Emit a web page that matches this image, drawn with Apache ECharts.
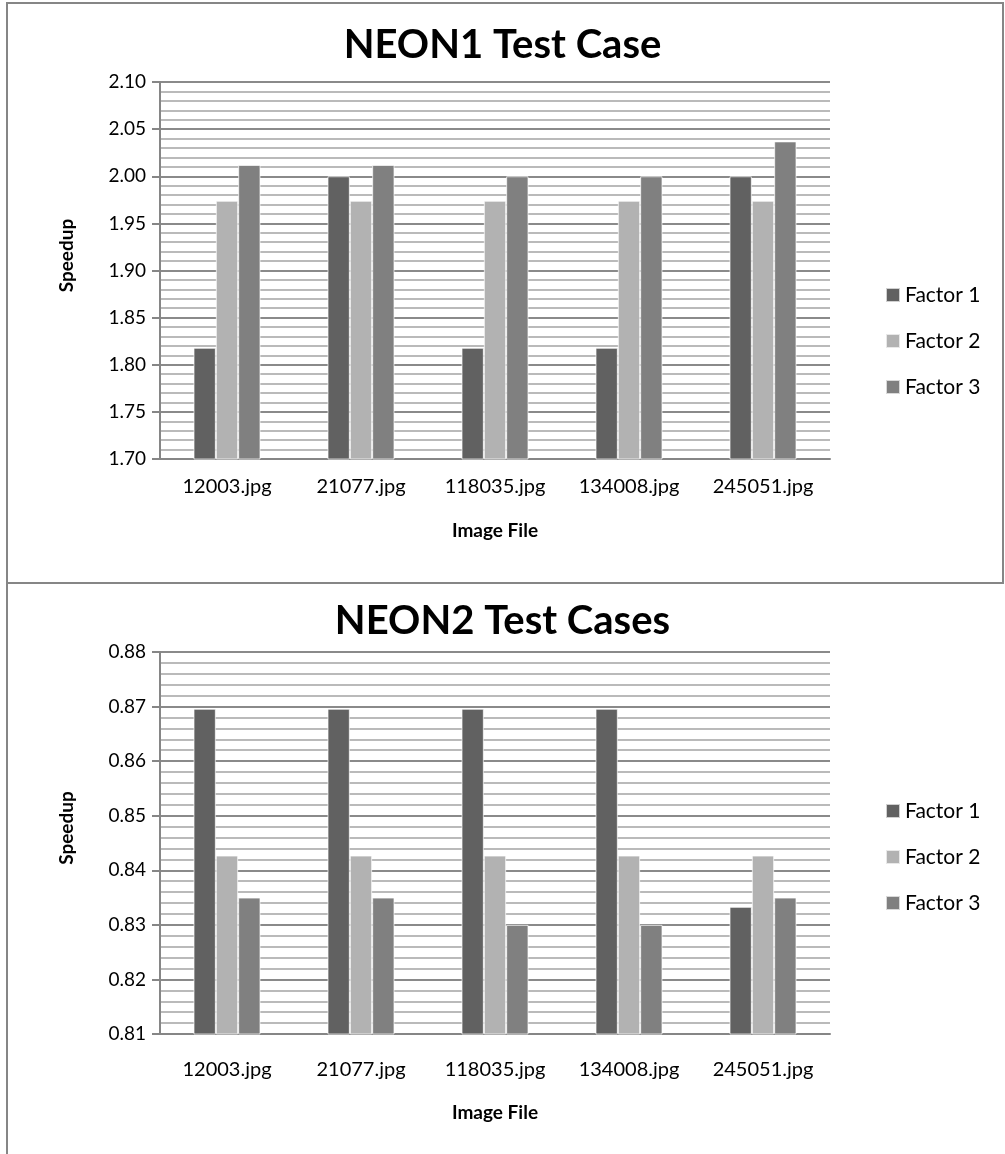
<!DOCTYPE html>
<html>
<head>
<meta charset="utf-8">
<script src="https://cdn.jsdelivr.net/npm/echarts@6/dist/echarts.min.js"></script>
<style>
html,body{margin:0;padding:0;background:#fff;}
#c{width:1005px;height:1154px;}
</style>
</head>
<body>
<div id="c"></div>
<script>
var categories = ['12003.jpg','21077.jpg','118035.jpg','134008.jpg','245051.jpg'];
var seriesNames = ['Factor 1','Factor 2','Factor 3'];
var neon1Factor1 = [1.818, 2.000, 1.818, 1.818, 2.000];
var neon1Factor2 = [1.974, 1.974, 1.974, 1.974, 1.974];
var neon1Factor3 = [2.012, 2.012, 2.000, 2.000, 2.037];
var neon2Factor1 = [0.8696, 0.8696, 0.8696, 0.8696, 0.8333];
var neon2Factor2 = [0.8427, 0.8427, 0.8427, 0.8427, 0.8427];
var neon2Factor3 = [0.8350, 0.8350, 0.8300, 0.8300, 0.8350];
var titles = ['NEON1 Test Case','NEON2 Test Cases'];
var yAxisName = 'Speedup';
var xAxisName = 'Image File';

var colors = ['#616161','#b2b2b2','#808080'];
var FONT = 'Lato';
var chart = echarts.init(document.getElementById('c'), null, {renderer:'canvas'});

function yAxisCfg(gi, min, max, interval){
  return {
    type:'value', gridIndex:gi, min:min, max:max, interval:interval,
    name:yAxisName, nameLocation:'middle', nameGap:84, nameRotate:90,
    nameTextStyle:{fontFamily:FONT, fontWeight:'bold', fontSize:19, color:'#000', padding:[0,0,0,30]},
    axisLine:{show:true, lineStyle:{color:'#868686', width:2}},
    axisTick:{show:true, inside:false, length:8, lineStyle:{color:'#868686', width:2}},
    axisLabel:{fontFamily:FONT, fontSize:19, color:'#000', margin:14,
      formatter:function(v){return v.toFixed(2);}},
    splitLine:{show:true, lineStyle:{color:'#8a8a8a', width:2}},
    minorTick:{show:false, splitNumber:5},
    minorSplitLine:{show:true, lineStyle:{color:'#bababa', width:2}}
  };
}
function xAxisCfg(gi, margin, nameGap){
  return {
    type:'category', gridIndex:gi, data:categories,
    name:xAxisName, nameLocation:'middle', nameGap:nameGap,
    nameTextStyle:{fontFamily:FONT, fontWeight:'bold', fontSize:19, color:'#000'},
    axisLine:{show:true, lineStyle:{color:'#868686', width:2}},
    axisTick:{show:false},
    axisLabel:{fontFamily:FONT, fontSize:20, color:'#000', margin:margin, interval:0},
    splitLine:{show:false}
  };
}
function barSeries(name, data, idx, gi){
  return {
    type:'bar', name:name, data:data, xAxisIndex:gi, yAxisIndex:gi,
    barGap:'0%', barCategoryGap:'50%',
    itemStyle:{color:colors[idx], borderColor:'rgba(255,255,255,0.7)', borderWidth:1},
    emphasis:{disabled:true}, animation:false
  };
}
var legendBase = {
  orient:'vertical', left:880, itemWidth:14, itemHeight:14, itemGap:24,
  icon:'rect', data:seriesNames,
  textStyle:{fontFamily:FONT, fontSize:21, color:'#000', lineHeight:22}
};

chart.setOption({
  animation:false,
  backgroundColor:'#fff',
  color:colors,
  title:[
    {text:titles[0], left:'center', top:20, textStyle:{fontFamily:FONT, fontWeight:'bold', fontSize:40, color:'#000'}},
    {text:titles[1], left:'center', top:596, textStyle:{fontFamily:FONT, fontWeight:'bold', fontSize:40, color:'#000'}}
  ],
  legend:[
    Object.assign({}, legendBase, {top:279}),
    Object.assign({}, legendBase, {top:795})
  ],
  grid:[
    {left:160, top:82, width:670, height:377},
    {left:160, top:652, width:670, height:382}
  ],
  xAxis:[ xAxisCfg(0, 18, 62), xAxisCfg(1, 26, 69) ],
  yAxis:[ yAxisCfg(0, 1.70, 2.10, 0.05), yAxisCfg(1, 0.81, 0.88, 0.01) ],
  series:[
    barSeries(seriesNames[0], neon1Factor1, 0, 0),
    barSeries(seriesNames[1], neon1Factor2, 1, 0),
    barSeries(seriesNames[2], neon1Factor3, 2, 0),
    barSeries(seriesNames[0], neon2Factor1, 0, 1),
    barSeries(seriesNames[1], neon2Factor2, 1, 1),
    barSeries(seriesNames[2], neon2Factor3, 2, 1)
  ],
  graphic:[
    {type:'rect', silent:true, shape:{x:7, y:3, width:996, height:580},
     style:{fill:'none', stroke:'#868686', lineWidth:2}},
    {type:'line', silent:true, shape:{x1:7, y1:583, x2:7, y2:1154},
     style:{stroke:'#868686', lineWidth:2}}
  ]
});
</script>
</body>
</html>
